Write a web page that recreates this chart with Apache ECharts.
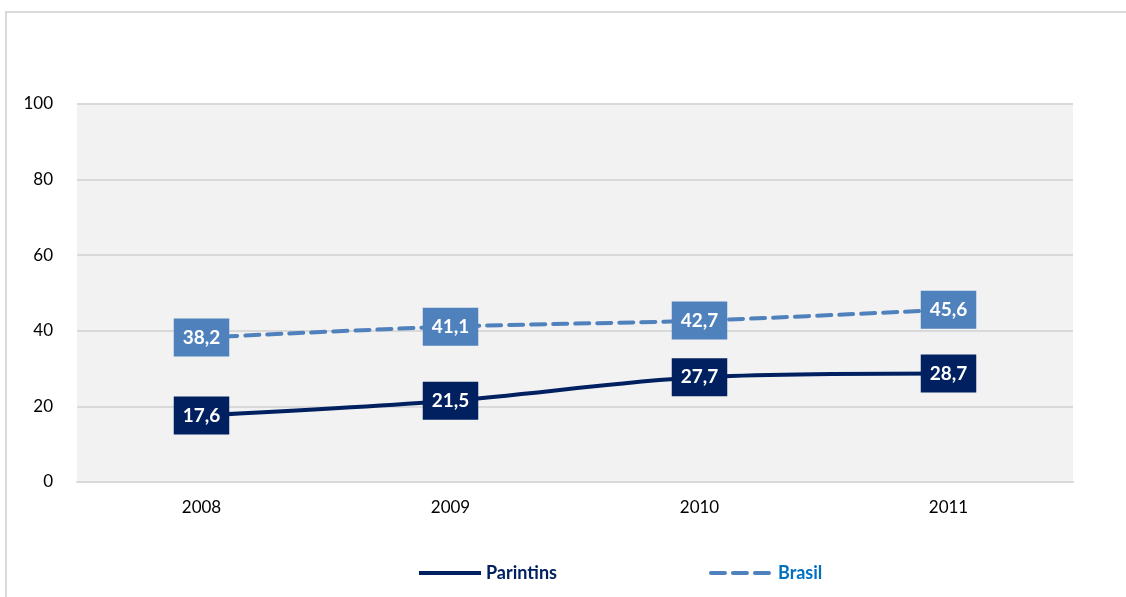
<!DOCTYPE html>
<html><head><meta charset="utf-8">
<script src="https://cdn.jsdelivr.net/npm/echarts@6/dist/echarts.min.js"></script>
<style>
html,body{margin:0;padding:0;background:#fff;}
#frame{position:absolute;left:5px;top:11px;width:1121px;height:586px;border-top:2px solid #d9d9d9;border-left:2px solid #d9d9d9;box-sizing:border-box;}
#chart{position:absolute;left:0;top:0;width:1126px;height:597px;}
</style></head>
<body>
<div id="frame"></div>
<div id="chart"></div>
<script>
const categories = ['2008', '2009', '2010', '2011'];
const parintins = [17.6, 21.5, 27.7, 28.7];
const brasil = [38.2, 41.1, 42.7, 45.6];
const yTicks = [0, 20, 40, 60, 80, 100];

const font = 'Lato, "Open Sans", sans-serif';
const fmt = p => String(p.value).replace('.', ',');
function lbl(bg) {
  return {show: true, position: 'inside', formatter: fmt, color: '#fff', fontWeight: 'bold',
    fontSize: 19, fontFamily: font, backgroundColor: bg, padding: [10, 9, 9, 9]};
}
const chart = echarts.init(document.getElementById('chart'), null, {renderer: 'canvas'});
chart.setOption({
  animation: false,
  grid: {left: 77, right: 53, top: 104, bottom: 115, show: true, backgroundColor: '#f2f2f2', borderWidth: 0},
  legend: {
    bottom: 10, left: 412, itemWidth: 62, itemHeight: 14, itemGap: 152,
    itemStyle: {opacity: 0},
    lineStyle: {width: 4},
    textStyle: {fontFamily: font, fontWeight: 'bold', fontSize: 18},
    data: [
      {name: 'Parintins', textStyle: {color: '#002060'}},
      {name: 'Brasil', textStyle: {color: '#0070c0'}}
    ]
  },
  xAxis: {
    type: 'category', data: categories, boundaryGap: true,
    axisLine: {show: true, lineStyle: {color: '#d9d9d9', width: 2}},
    axisTick: {show: false},
    axisLabel: {color: '#000', fontSize: 17, fontFamily: font, margin: 17}
  },
  yAxis: {
    type: 'value', min: yTicks[0], max: yTicks[yTicks.length - 1], interval: 20,
    axisLine: {show: false}, axisTick: {show: false},
    axisLabel: {color: '#000', fontSize: 17, fontFamily: font, margin: 24},
    splitLine: {lineStyle: {color: '#d9d9d9', width: 2}}
  },
  series: [
    {name: 'Parintins', type: 'line', data: parintins, smooth: 0.3, symbol: 'circle', symbolSize: 0.01,
      lineStyle: {color: '#002060', width: 4}, itemStyle: {color: '#002060'},
      label: lbl('#002060'), z: 3},
    {name: 'Brasil', type: 'line', data: brasil, smooth: 0.3, symbol: 'circle', symbolSize: 0.01,
      lineStyle: {color: '#4f81bd', width: 4, type: [14, 8], cap: 'round'}, itemStyle: {color: '#4f81bd'},
      label: lbl('#4f81bd'), z: 2}
  ]
});
</script>
</body></html>
